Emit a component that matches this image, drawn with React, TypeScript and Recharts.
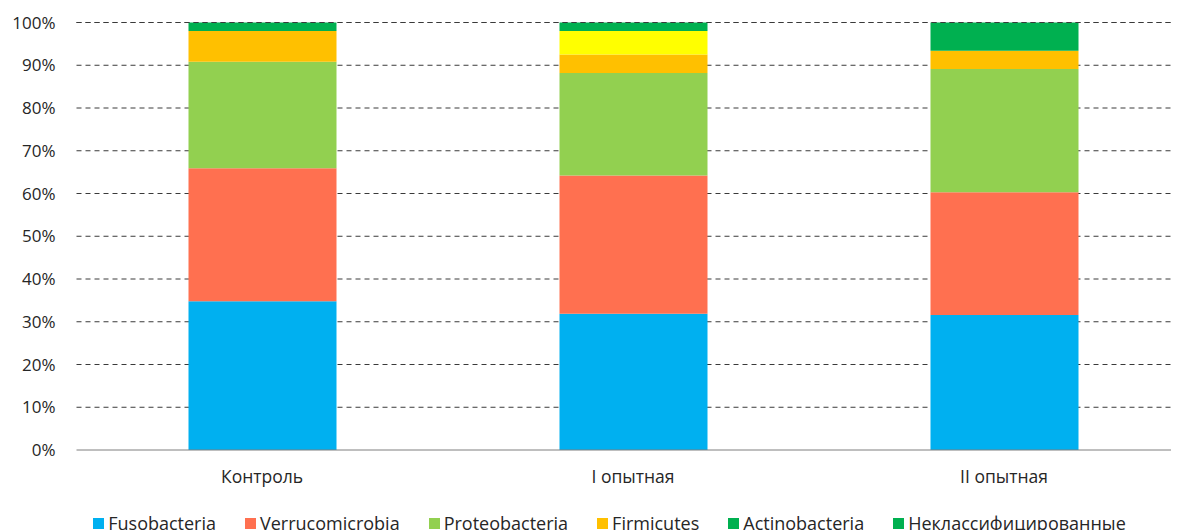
import React from "react";
import { BarChart, Bar, XAxis, YAxis, CartesianGrid, Legend, Cell, ReferenceLine } from "recharts";

const categories = ["Контроль", "I опытная", "II опытная"];
const fusobacteria = [34.8, 31.9, 31.6];
const verrucomicrobia = [31.1, 32.3, 28.7];
const proteobacteria = [24.9, 24.0, 28.8];
const firmicutes = [7.2, 4.3, 4.3];
const actinobacteria = [0, 5.5, 0];
const unclassified = [2.0, 2.0, 6.6];
const yTicks = [0, 10, 20, 30, 40, 50, 60, 70, 80, 90, 100];

const seriesNames = [
  "Fusobacteria",
  "Verrucomicrobia",
  "Proteobacteria",
  "Firmicutes",
  "Actinobacteria",
  "Неклассифицированные",
];
const seriesColors = ["#00B0F0", "#FF7050", "#92D050", "#FFC000", "#00B050", "#00B050"];
const actinoPointColors = ["#00B050", "#FFFF00", "#00B050"];

const data = categories.map((c, i) => ({
  name: c,
  s0: fusobacteria[i],
  s1: verrucomicrobia[i],
  s2: proteobacteria[i],
  s3: firmicutes[i],
  s4: actinobacteria[i],
  s5: unclassified[i],
}));

const FONT = "'Open Sans', sans-serif";
const TEXT = "#262626";

const LegendContent = () => (
  <div
    style={{
      display: "flex",
      justifyContent: "center",
      gap: 29,
      fontFamily: FONT,
      fontSize: 18,
      color: TEXT,
      whiteSpace: "nowrap",
      paddingLeft: 32,
    }}
  >
    {seriesNames.map((n, i) => (
      <div key={n} style={{ display: "flex", alignItems: "center" }}>
        <span
          style={{
            display: "inline-block",
            width: 11,
            height: 11,
            background: seriesColors[i],
            marginRight: 4,
          }}
        />
        <span>{n}</span>
      </div>
    ))}
  </div>
);

export default function App() {
  return (
    <div style={{ width: 1171, height: 522, overflow: "hidden", position: "relative" }}>
      <BarChart
        width={1190}
        height={540}
        data={data}
        margin={{ top: 14.5, right: 8.5, left: 0, bottom: 44 }}
        barSize={148}
      >
        <CartesianGrid
          vertical={false}
          stroke="#3a3a3a"
          strokeDasharray="5 4"
          horizontalValues={[10, 20, 30, 40, 50, 60, 70, 80, 90, 100]}
        />
        <XAxis
          dataKey="name"
          tickLine={false}
          tickSize={0}
          tickMargin={21}
          axisLine={{ stroke: "#7f7f7f" }}
          tick={{ fill: TEXT, fontFamily: FONT, fontSize: 17.5 }}
          height={30}
        />
        <YAxis
          domain={[0, 100]}
          ticks={yTicks}
          tickFormatter={(v: number) => `${v}%`}
          axisLine={false}
          tickLine={false}
          tickSize={0}
          tickMargin={21}
          width={68.5}
          tick={{ fill: TEXT, fontFamily: FONT, fontSize: 17 }}
          interval={0}
        />
        <Bar dataKey="s0" stackId="a" fill={seriesColors[0]} isAnimationActive={false} name={seriesNames[0]} />
        <Bar dataKey="s1" stackId="a" fill={seriesColors[1]} isAnimationActive={false} name={seriesNames[1]} />
        <Bar dataKey="s2" stackId="a" fill={seriesColors[2]} isAnimationActive={false} name={seriesNames[2]} />
        <Bar dataKey="s3" stackId="a" fill={seriesColors[3]} isAnimationActive={false} name={seriesNames[3]} />
        <Bar dataKey="s4" stackId="a" fill={seriesColors[4]} isAnimationActive={false} name={seriesNames[4]}>
          {data.map((d, i) => (
            <Cell key={d.name} fill={actinoPointColors[i]} />
          ))}
        </Bar>
        <Bar dataKey="s5" stackId="a" fill={seriesColors[5]} isAnimationActive={false} name={seriesNames[5]} />
        <ReferenceLine y={100} stroke="#3a3a3a" strokeDasharray="5 4" />
        <Legend
          verticalAlign="bottom"
          content={LegendContent}
          wrapperStyle={{ top: 503, left: 0, width: 1171, bottom: "auto" }}
        />
      </BarChart>
    </div>
  );
}
